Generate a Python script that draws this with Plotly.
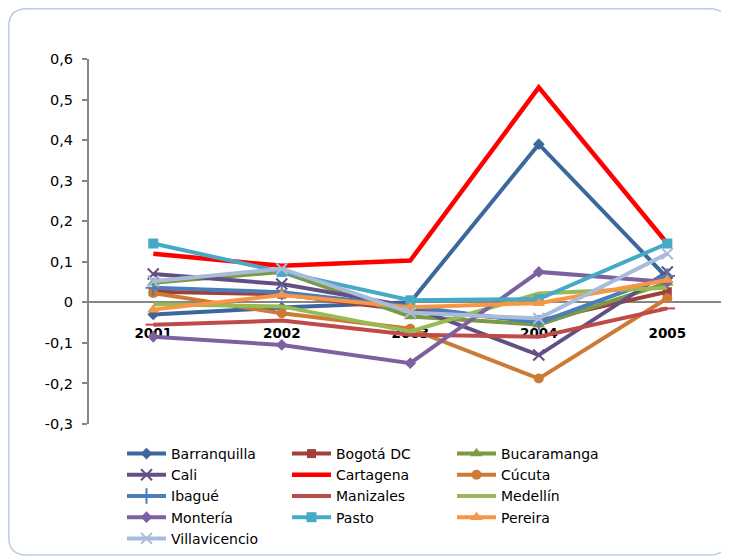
import plotly.graph_objects as go

years = ["2001", "2002", "2003", "2004", "2005"]
tick_vals = [-0.3, -0.2, -0.1, 0, 0.1, 0.2, 0.3, 0.4, 0.5, 0.6]
tick_text = ["-0,3", "-0,2", "-0,1", "0", "0,1", "0,2", "0,3", "0,4", "0,5", "0,6"]

barranquilla = [-0.030, -0.013, 0.000, 0.390, 0.060]
bogota = [0.026, 0.020, -0.020, -0.045, 0.026]
bucaramanga = [0.048, 0.075, -0.035, -0.055, 0.048]
cali = [0.070, 0.045, -0.010, -0.130, 0.075]
cartagena = [0.120, 0.090, 0.103, 0.530, 0.145]
cucuta = [0.023, -0.027, -0.065, -0.188, 0.010]
ibague = [0.036, 0.025, -0.010, -0.050, 0.065]
manizales = [-0.055, -0.045, -0.080, -0.085, -0.015]
medellin = [-0.005, -0.010, -0.072, 0.022, 0.036]
monteria = [-0.085, -0.105, -0.150, 0.075, 0.050]
pasto = [0.145, 0.075, 0.005, 0.008, 0.145]
pereira = [-0.018, 0.018, -0.012, -0.002, 0.055]
villavicencio = [0.052, 0.083, -0.025, -0.040, 0.120]

series = [
    ("Barranquilla", barranquilla, "#3B679E", "diamond", 9),
    ("Bogotá DC", bogota, "#A03F3C", "square", 9),
    ("Bucaramanga", bucaramanga, "#7A9A45", "triangle-up", 11),
    ("Cali", cali, "#644F85", "x-thin-open", 11),
    ("Cartagena", cartagena, "#FF0000", None, 0),
    ("Cúcuta", cucuta, "#CC7A36", "circle", 10),
    ("Ibagué", ibague, "#4A7EBB", "cross-thin-open", 11),
    ("Manizales", manizales, "#BE4B48", "line-ew-open", 11),
    ("Medellín", medellin, "#98B954", None, 0),
    ("Montería", monteria, "#7D60A0", "diamond", 9),
    ("Pasto", pasto, "#46AAC5", "square", 10),
    ("Pereira", pereira, "#F79646", "triangle-up", 11),
    ("Villavicencio", villavicencio, "#A8BBD9", "x-thin-open", 11),
]

fig = go.Figure()
for name, vals, color, sym, size in series:
    if sym is None:
        fig.add_trace(go.Scatter(x=years, y=vals, name=name, mode="lines",
                                 line=dict(color=color, width=4.5 if name == "Cartagena" else 4)))
    else:
        fig.add_trace(go.Scatter(
            x=years, y=vals, name=name, mode="lines+markers",
            line=dict(color=color, width=4),
            marker=dict(symbol=sym, size=size, color=color,
                        line=dict(color=color, width=2 if "open" in sym else 0)),
        ))

# page body has an 8px margin, so figure coords = screen coords - 8
W, H = 721, 552
ML, MR, MT, MB = 81, 0, 51, 136
PW, PH = W - ML - MR, H - MT - MB


def px(x):
    return (x - ML) / PW


def py(y):
    return (H - MB - y) / PH


# rounded border around the chart
x0, y0, x1, y1, r = 0.75, 0.75, 719.5, 547, 18
path = (f"M {px(x0 + r)},{py(y0)} L {px(x1 - r)},{py(y0)} "
        f"Q {px(x1)},{py(y0)} {px(x1)},{py(y0 + r)} "
        f"L {px(x1)},{py(y1 - r)} Q {px(x1)},{py(y1)} {px(x1 - r)},{py(y1)} "
        f"L {px(x0 + r)},{py(y1)} Q {px(x0)},{py(y1)} {px(x0)},{py(y1 - r)} "
        f"L {px(x0)},{py(y0 + r)} Q {px(x0)},{py(y0)} {px(x0 + r)},{py(y0)} Z")

fig.update_layout(
    width=W, height=H,
    margin=dict(l=ML, r=MR, t=MT, b=MB, pad=0),
    paper_bgcolor="white", plot_bgcolor="white",
    font=dict(family="DejaVu Sans", size=14, color="black"),
    showlegend=True,
    legend=dict(orientation="h", x=px(114), xanchor="left", y=py(430), yanchor="top",
                itemwidth=39, entrywidth=111, entrywidthmode="pixels",
                font=dict(size=14, family="DejaVu Sans"), bgcolor="rgba(0,0,0,0)",
                itemclick=False),
    shapes=[dict(type="path", xref="paper", yref="paper", path=path,
                 line=dict(color="#B9CDE5", width=1.5), layer="below")],
    xaxis=dict(type="category", range=[-0.5, 4.48], showgrid=False, zeroline=False,
               showline=True, linecolor="#868686", linewidth=2, layer="below traces",
               anchor="free", position=1 / 3, ticks="", ticklabelstandoff=18,
               tickfont=dict(family="DejaVu Sans", size=13.5, color="black", weight="bold")),
    yaxis=dict(range=[-0.3, 0.6], tickvals=tick_vals, ticktext=tick_text,
               showgrid=False, zeroline=False, showline=True, linecolor="#868686",
               linewidth=2, layer="below traces", ticks="outside", ticklen=5,
               tickcolor="#868686", tickwidth=2, ticklabelstandoff=6,
               tickfont=dict(family="DejaVu Sans", size=14.5, color="black")),
)

fig.write_html("out.html")
